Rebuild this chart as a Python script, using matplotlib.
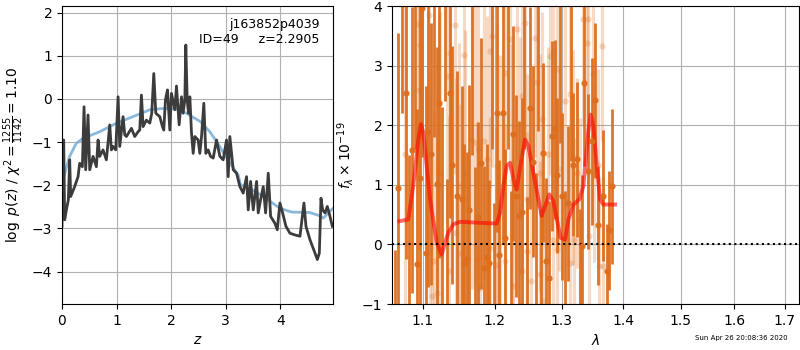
import matplotlib
matplotlib.use("Agg")
import matplotlib.pyplot as plt
from matplotlib.ticker import FixedLocator, NullLocator, FixedFormatter

# ---------------- left panel: log p(z) ----------------
z_grid = [0.000, 0.012, 0.031, 0.049, 0.080, 0.116, 0.141, 0.159, 0.232, 0.294,
          0.324, 0.373, 0.404, 0.434, 0.477, 0.508, 0.569, 0.630, 0.661, 0.691,
          0.752, 0.813, 0.875, 0.905, 0.936, 0.985, 1.028, 1.058, 1.119, 1.150,
          1.180, 1.272, 1.333, 1.394, 1.425, 1.456, 1.486, 1.547, 1.609, 1.645,
          1.682, 1.719, 1.792, 1.841, 1.865, 1.896, 1.933, 1.976, 2.006, 2.067,
          2.098, 2.147, 2.190, 2.220, 2.251, 2.269, 2.294, 2.318, 2.343, 2.373,
          2.404, 2.434, 2.495, 2.526, 2.557, 2.599, 2.636, 2.679, 2.722, 2.771,
          2.832, 2.893, 2.954, 3.015, 3.046, 3.076, 3.138, 3.199, 3.260, 3.321,
          3.382, 3.413, 3.456, 3.505, 3.566, 3.596, 3.639, 3.688, 3.731, 3.780,
          3.823, 3.902, 3.945, 3.994, 4.043, 4.104, 4.177, 4.269, 4.361, 4.434,
          4.471, 4.544, 4.636, 4.679, 4.716, 4.746, 4.777, 4.820, 4.862, 4.911,
          4.954]
log_pz = [-2.95, -0.95, -0.95, -2.80, -2.57, -2.34, -1.41, -2.26, -2.03, -1.80,
          -1.49, -1.57, -0.18, -1.64, -0.37, -1.64, -1.33, -1.57, -0.95, -1.33,
          -1.18, -1.41, -0.60, -1.18, -1.10, -1.18, 0.05, -1.10, -0.41, -0.83,
          -0.87, -0.68, -0.87, -0.76, -0.72, 0.09, -0.64, -0.49, -0.56, -0.33,
          0.59, -0.33, -0.41, -0.64, -0.72, -0.02, 0.21, -0.72, 0.13, -0.25,
          0.30, -0.60, 0.05, -0.33, -0.02, 1.25, -0.02, -0.33, 0.05, -0.79,
          -1.26, -0.87, -0.95, -1.26, -0.87, -0.10, -1.26, -1.18, -1.33, -1.37,
          -0.95, -1.33, -1.41, -0.95, -1.80, -0.87, -1.64, -1.72, -2.03, -2.18,
          -1.80, -2.57, -1.91, -2.57, -1.91, -2.64, -2.34, -2.03, -2.64, -1.72,
          -2.72, -2.88, -3.03, -2.41, -2.64, -2.95, -3.11, -3.15, -3.18, -2.41,
          -2.95, -3.26, -3.57, -3.72, -3.57, -2.30, -2.57, -2.64, -2.49, -2.72,
          -2.95]

z_prior = [0.00, 0.14, 0.26, 0.385, 0.69, 1.00, 1.30, 1.61, 1.85, 2.10, 2.28,
           2.53, 2.71, 2.89, 3.08, 3.23, 3.27, 3.44, 3.69, 3.99, 4.21, 4.54,
           4.73, 4.79, 4.88, 4.97]
log_prior = [-1.95, -1.33, -1.03, -0.91, -0.76, -0.56, -0.41, -0.25, -0.22,
             -0.23, -0.33, -0.52, -0.76, -1.10, -1.49, -1.76, -1.99, -2.07,
             -2.26, -2.53, -2.62, -2.63, -2.71, -2.76, -2.64, -2.53]

# ---------------- right panel: spectrum ----------------
wave_a = [1.0640, 1.0685, 1.0730, 1.0784, 1.0825, 1.0866, 1.0895, 1.0931, 1.0967, 1.0997,
          1.1042, 1.1077, 1.1117, 1.1150, 1.1189, 1.1224, 1.1265, 1.1299, 1.1333, 1.1370,
          1.1401, 1.1462, 1.1531, 1.1567, 1.1609, 1.1636, 1.1681, 1.1713, 1.1755, 1.1797,
          1.1848, 1.1892, 1.1920, 1.1956, 1.1987, 1.2026, 1.2064, 1.2114, 1.2151, 1.2190,
          1.2229, 1.2268, 1.2308, 1.2357, 1.2393, 1.2434, 1.2478, 1.2521, 1.2557, 1.2600,
          1.2640, 1.2680, 1.2719, 1.2760, 1.2811, 1.2848, 1.2898, 1.2935, 1.2977, 1.3013,
          1.3055, 1.3098, 1.3142, 1.3186, 1.3240, 1.3285, 1.3329, 1.3361, 1.3427, 1.3480,
          1.3534, 1.3589, 1.3671, 1.3727, 1.3769, 1.3819]
flux_a = [-1.40, 0.95, 4.50, 2.55, -1.50, 1.58, 4.60, -0.32, 1.12, 3.97,
          -0.14, 1.89, 1.52, 4.30, 1.02, 2.38, -1.20, 4.40, -1.30, 2.55,
          1.33, 0.81, 0.76, -0.31, -0.24, 0.57, 4.50, -1.40, 0.46, 1.36,
          -0.39, -0.21, -0.31, 4.40, -1.30, 2.21, -0.18, 2.21, 0.11, 4.60,
          -1.50, 1.86, 0.81, 0.48, 0.55, 4.40, -1.20, 2.29, 1.39, -1.40,
          4.30, -1.60, 1.54, -0.28, -0.57, 1.82, 1.93, 1.16, 4.50, 0.81,
          -1.30, 0.69, 4.40, 1.34, 1.43, -1.40, -0.03, 2.71, 1.23, 1.73,
          2.42, 0.32, 0.82, -0.45, 0.24, 0.98]
err_a = [1.30, 2.60, 2.30, 2.80, 3.00, 2.40, 3.00, 2.60, 3.00, 2.50,
         2.80, 2.60, 2.20, 2.50, 2.30, 2.60, 3.50, 2.00, 2.40, 2.10,
         2.00, 2.10, 1.90, 2.00, 1.80, 2.10, 3.00, 2.70, 1.60, 2.10,
         1.70, 1.90, 1.40, 2.80, 2.00, 2.00, 1.60, 2.20, 1.50, 3.00,
         2.40, 1.80, 1.70, 1.60, 1.90, 2.80, 2.00, 1.70, 1.60, 2.60,
         2.40, 2.20, 1.50, 1.40, 1.30, 1.60, 1.50, 1.30, 2.80, 1.40,
         2.20, 1.30, 3.00, 1.20, 1.30, 2.00, 1.20, 1.40, 1.30, 1.40,
         1.30, 1.00, 1.10, 0.80, 1.00, 1.30]

wave_b = [1.0771, 1.0945, 1.0954, 1.0967, 1.1091, 1.1100, 1.1122, 1.1158, 1.1189, 1.1234,
          1.1324, 1.1356, 1.1370, 1.1438, 1.1445, 1.1494, 1.1507, 1.1558, 1.1577, 1.1670,
          1.1717, 1.1741, 1.1764, 1.1787, 1.1844, 1.1882, 1.1925, 1.1930, 1.1954, 1.2020,
          1.2026, 1.2073, 1.2140, 1.2146, 1.2221, 1.2245, 1.2270, 1.2318, 1.2368, 1.2393,
          1.2398, 1.2443, 1.2468, 1.2473, 1.2533, 1.2593, 1.2618, 1.2663, 1.2669, 1.2694,
          1.2720, 1.2796, 1.2821, 1.2868, 1.2873, 1.2926, 1.2931, 1.2967, 1.3056, 1.3134,
          1.3139, 1.3187, 1.3192, 1.3240, 1.3293, 1.3346, 1.3400, 1.3426, 1.3431, 1.3508,
          1.3513, 1.3589, 1.3605, 1.3643, 1.3670]
flux_b = [1.51, 3.70, 2.60, 3.34, 3.85, -0.06, -0.87, -0.28, -0.81, 1.20,
          2.82, -0.45, 3.21, 3.68, 0.20, 0.98, -0.14, 3.18, 1.20, 1.76,
          1.71, -0.25, 1.60, -0.73, 1.74, 1.43, -0.06, 3.25, 3.50, -0.34,
          1.32, 0.98, -0.28, 2.87, 3.45, 1.06, -0.69, 3.61, 1.48, 2.49,
          -0.45, 3.71, 0.76, -0.11, -0.62, 3.47, 2.73, -0.50, 1.20, 2.10,
          -0.95, 1.51, 3.16, 0.08, 3.25, 2.94, -0.08, 1.26, 2.41, 2.52,
          -0.31, 1.46, 0.08, 1.20, 0.42, 3.78, 3.38, 3.78, 0.14, 2.86,
          1.20, 1.34, -0.36, 3.33, -0.36]
err_b = [2.8, 2.6, 2.7, 2.5, 2.8, 2.6, 2.7, 2.5, 2.6, 2.7,
         2.5, 2.6, 2.4, 2.5, 2.6, 2.4, 2.5, 2.3, 2.4, 2.5,
         2.4, 2.3, 2.4, 2.5, 2.3, 2.4, 2.2, 2.3, 2.2, 2.3,
         2.4, 2.2, 2.3, 2.1, 2.2, 2.3, 2.1, 2.2, 2.0, 2.1,
         2.2, 2.0, 2.1, 2.0, 1.9, 2.0, 2.1, 1.9, 2.0, 1.8,
         1.9, 1.8, 2.0, 1.9, 1.8, 1.9, 1.8, 1.7, 1.8, 1.9,
         1.7, 1.8, 1.7, 1.6, 1.7, 1.8, 1.7, 1.6, 1.7, 1.6,
         1.5, 1.6, 1.5, 1.6, 1.5]

wave_model = [1.0698, 1.0814, 1.0880, 1.0945, 1.0980, 1.1011, 1.1100, 1.1189, 1.1256, 1.1315,
              1.1347, 1.1416, 1.1507, 1.2026, 1.2073, 1.2123, 1.2171, 1.2221, 1.2270, 1.2318,
              1.2368, 1.2443, 1.2493, 1.2568, 1.2643, 1.2694, 1.2745, 1.2811, 1.2873, 1.2926,
              1.2988, 1.3056, 1.3108, 1.3187, 1.3283, 1.3346, 1.3426, 1.3464, 1.3508, 1.3562,
              1.3616, 1.3670, 1.3864]
flux_model = [0.39, 0.42, 1.00, 1.76, 2.02, 1.88, 0.76, 0.03, -0.17, 0.08,
              0.20, 0.34, 0.38, 0.35, 0.53, 0.98, 1.32, 1.37, 1.09, 0.92,
              1.29, 1.76, 1.65, 1.20, 0.76, 0.48, 0.64, 0.84, 0.73, 0.42,
              0.11, 0.08, 0.42, 0.67, 0.76, 0.98, 1.90, 2.18, 1.99, 1.32,
              0.76, 0.67, 0.67]

wave_ticks = [1.1, 1.2, 1.3, 1.4, 1.5, 1.6, 1.7]
wave_labels = ["1.1", "1.2", "1.3", "1.4", "1.5", "1.6", "1.7"]

ORANGE = "#dc6e1e"

fig = plt.figure(figsize=(8, 3.5), dpi=100)
ax1 = fig.add_axes([0.0775, 0.1314, 0.339, 0.851])
ax2 = fig.add_axes([0.49, 0.1314, 0.509, 0.851])

# left
ax1.plot(z_prior, log_prior, color="#7fb2d8", lw=2, alpha=0.9)
ax1.plot(z_grid, log_pz, color="#3c3c3c", lw=2)
ax1.set_xlim(0, 4.97)
ax1.set_ylim(-4.75, 2.15)
ax1.set_xticks([0, 1, 2, 3, 4])
ax1.set_yticks([-4, -3, -2, -1, 0, 1, 2])
ax1.grid(True)
ax1.set_xlabel("$z$")
ax1.set_ylabel(r"$\log\ p(z)$ / $\chi^2=\frac{1255}{1142}=1.10$")
ax1.text(0.95, 0.96, "j163852p4039\nID=49     z=2.2905", transform=ax1.transAxes,
         ha="right", va="top", fontsize=9)

# right
ax2.errorbar(wave_b, flux_b, yerr=err_b, fmt="o", color=ORANGE, alpha=0.25,
             ms=4.5, elinewidth=2.3, capsize=0, markeredgewidth=0)
ax2.errorbar(wave_a, flux_a, yerr=err_a, fmt="o", color=ORANGE, alpha=0.95,
             ms=4.5, elinewidth=2.0, capsize=0, markeredgewidth=0)
ax2.plot(wave_model, flux_model, color="red", lw=2.8, alpha=0.6)
ax2.axhline(0, color="k", ls=":", lw=1.5)
ax2.set_xscale("log")
ax2.set_xlim(1.0604, 1.7298)
ax2.set_ylim(-1, 4)
ax2.xaxis.set_major_locator(FixedLocator(wave_ticks))
ax2.xaxis.set_major_formatter(FixedFormatter(wave_labels))
ax2.xaxis.set_minor_locator(NullLocator())
ax2.set_yticks([-1, 0, 1, 2, 3, 4])
ax2.grid(True)
ax2.set_xlabel(r"$\lambda$")
ax2.set_ylabel(r"$f_\lambda\times10^{-19}$")

fig.text(0.985, 0.027, "Sun Apr 26 20:08:36 2020", ha="right", va="bottom", fontsize=5)

fig.savefig("out.png", dpi=100)
